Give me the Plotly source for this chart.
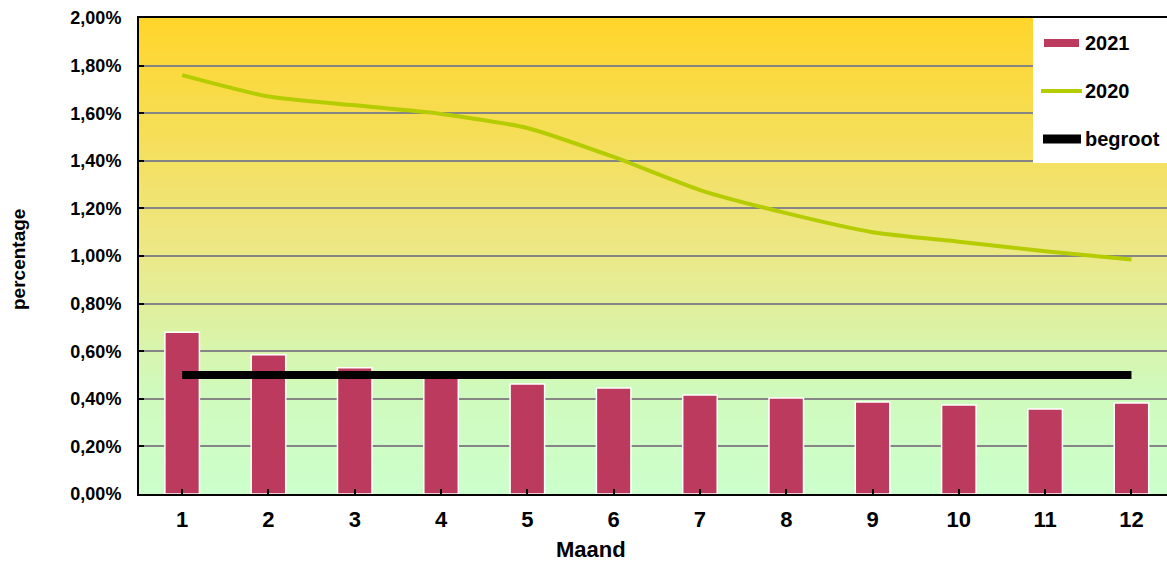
import plotly.graph_objects as go

months = [1, 2, 3, 4, 5, 6, 7, 8, 9, 10, 11, 12]
tick_labels = [str(m) for m in months]
val_2021 = [0.68, 0.585, 0.53, 0.495, 0.462, 0.445, 0.416, 0.403, 0.387, 0.374, 0.357, 0.382]
val_2020 = [1.76, 1.67, 1.633, 1.597, 1.538, 1.416, 1.277, 1.18, 1.10, 1.06, 1.02, 0.985]
begroot = [0.50] * 12

to_frac = lambda v: [x / 100 for x in v]

W, H = 1167, 564
L, R, T, B = 139, 0, 18, 70
pw, ph = W - L - R, H - T - B
cat_px = 86.3  # category spacing in the reference (plot area runs past the right edge)

def px_x(x):
    return (x - L) / pw

def px_y(y):
    return (H - B - y) / ph

fig = go.Figure()
fig.add_trace(go.Bar(x=months, y=to_frac(val_2021), name="2021",
                     marker=dict(color="#BC3A5E", line=dict(color="white", width=1.5)),
                     showlegend=False))
fig.add_trace(go.Scatter(x=months, y=to_frac(val_2020), name="2020", mode="lines",
                         line=dict(color="#B5CC00", width=4, shape="spline", smoothing=0.6),
                         showlegend=False))
fig.add_trace(go.Scatter(x=months, y=to_frac(begroot), name="begroot", mode="lines",
                         line=dict(color="black", width=8), showlegend=False))

# gradient background
stops = [(0.0, (204, 255, 204)), (0.45, (208, 250, 188)), (1.0, (236, 232, 136)), (2.0, (255, 213, 42))]
def col(v):
    for (a, ca), (b, cb) in zip(stops[:-1], stops[1:]):
        if a <= v <= b:
            t = (v - a) / (b - a)
            return "rgb(%d,%d,%d)" % tuple(round(ca[i] + (cb[i] - ca[i]) * t) for i in range(3))
    return "rgb(255,213,42)"

n = 100
shapes = []
for i in range(n):
    y0 = 0.02 * i / n
    y1 = 0.02 * (i + 1) / n
    shapes.append(dict(type="rect", xref="paper", yref="y", x0=0, x1=1, y0=y0, y1=y1 + 0.00005,
                       fillcolor=col((y0 + y1) / 2 * 100), line=dict(width=0), layer="below"))

# legend box
shapes.append(dict(type="rect", xref="paper", yref="paper", x0=px_x(1033), x1=1.0,
                   y0=px_y(163), y1=1.0, fillcolor="white", line=dict(width=0), layer="above"))
shapes.append(dict(type="line", xref="paper", yref="paper", x0=px_x(1044), x1=px_x(1079),
                   y0=px_y(43), y1=px_y(43), line=dict(color="#BC3A5E", width=8), layer="above"))
shapes.append(dict(type="line", xref="paper", yref="paper", x0=px_x(1041), x1=px_x(1082),
                   y0=px_y(91), y1=px_y(91), line=dict(color="#B5CC00", width=4), layer="above"))
shapes.append(dict(type="line", xref="paper", yref="paper", x0=px_x(1043), x1=px_x(1081),
                   y0=px_y(139), y1=px_y(139), line=dict(color="black", width=9), layer="above"))

FAM = "Liberation Sans, Arial"
def bold(size):
    return dict(family=FAM, size=size, color="black", weight="bold")

annotations = []
for txt, yy in [("2021", 43), ("2020", 91), ("begroot", 139)]:
    annotations.append(dict(text=txt, xref="paper", yref="paper", x=px_x(1083), y=px_y(yy),
                            xanchor="left", yanchor="middle", showarrow=False, font=bold(20)))
# axis titles
annotations.append(dict(text="Maand", xref="paper", yref="paper", x=px_x(591), y=px_y(563),
                        xanchor="center", yanchor="bottom", showarrow=False, borderpad=0,
                        font=bold(22)))
annotations.append(dict(text="percentage", xref="paper", yref="paper", x=px_x(18), y=px_y(260),
                        xanchor="center", yanchor="middle", textangle=-90, showarrow=False,
                        font=bold(19)))

fig.update_layout(
    width=W, height=H,
    margin=dict(l=L, r=R, t=T, b=B),
    paper_bgcolor="white",
    plot_bgcolor="#CCFFCC",
    separators=",.",
    bargap=0.6,
    shapes=shapes,
    annotations=annotations,
    xaxis=dict(
        tickmode="array", tickvals=months, ticktext=tick_labels,
        range=[0.5, 0.5 + pw / cat_px], showgrid=False, zeroline=False,
        showline=True, linecolor="black", linewidth=2, mirror=True,
        ticks="inside", ticklen=5, tickcolor="black", tickwidth=2,
        tickfont=bold(22), ticklabelstandoff=5,
    ),
    yaxis=dict(
        range=[0, 0.02], tickvals=[i * 0.002 for i in range(11)], tickformat=".2%",
        showgrid=True, gridcolor="#858585", gridwidth=2, zeroline=False,
        showline=True, linecolor="black", linewidth=2,
        ticks="inside", ticklen=5, tickcolor="black", tickwidth=2,
        tickfont=bold(18), ticklabelstandoff=12,
    ),
)

fig.write_html("out.html", config={"displayModeBar": False},
               post_script="document.body.style.margin='0';document.body.style.overflow='hidden';")
